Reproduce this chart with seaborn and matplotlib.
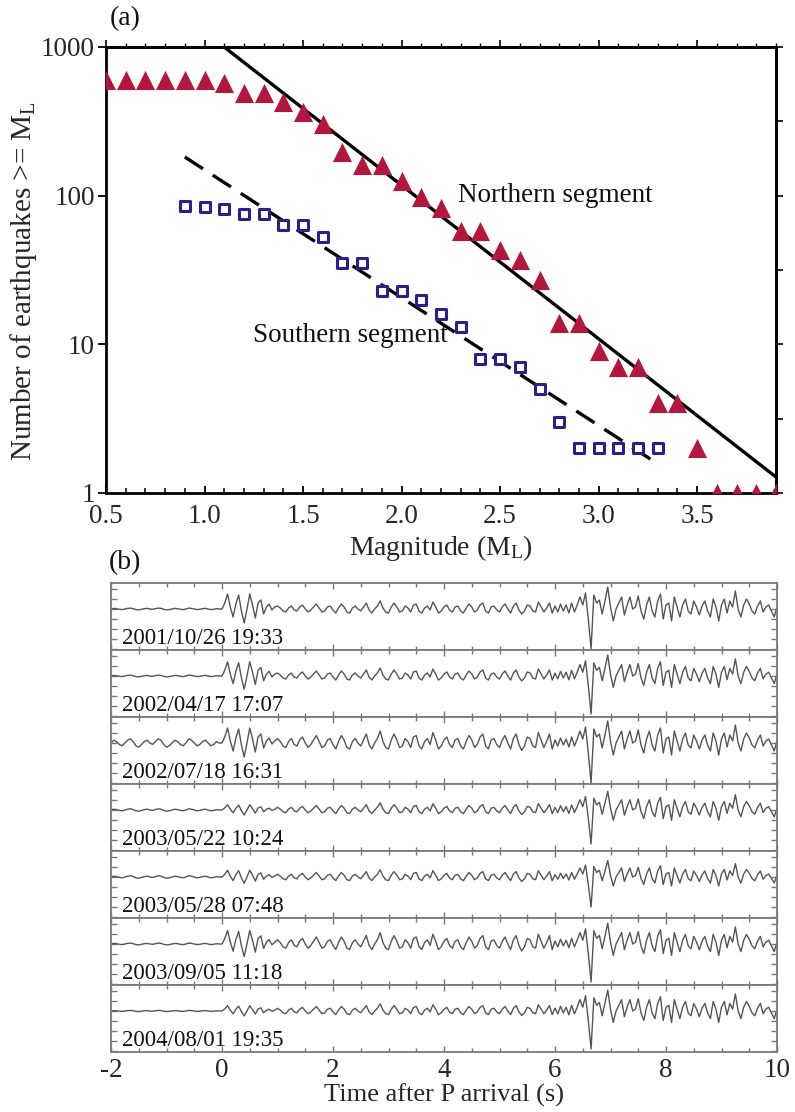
import numpy as np
import matplotlib
matplotlib.use("Agg")
import matplotlib.pyplot as plt
import seaborn as sns
from matplotlib.ticker import FixedLocator, MultipleLocator, NullLocator, NullFormatter, FormatStrFormatter

# ---------------- data: panel (a) ----------------
north_mag = [0.5, 0.6, 0.7, 0.8, 0.9, 1.0, 1.1, 1.2, 1.3, 1.4, 1.5, 1.6, 1.7, 1.8, 1.9, 2.0, 2.1, 2.2,
             2.3, 2.4, 2.5, 2.6, 2.7, 2.8, 2.9, 3.0, 3.1, 3.2, 3.3, 3.4, 3.5, 3.6, 3.7, 3.8, 3.9]
north_count = [600, 600, 600, 600, 600, 600, 572, 490, 490, 425, 365, 303, 196, 160, 160, 126, 98, 82,
               58, 58, 43, 37, 27, 14, 14, 9, 7, 7, 4, 4, 2, 1, 1, 1, 1]
south_mag = [0.9, 1.0, 1.1, 1.2, 1.3, 1.4, 1.5, 1.6, 1.7, 1.8, 1.9, 2.0, 2.1, 2.2, 2.3, 2.4, 2.5,
             2.6, 2.7, 2.8, 2.9, 3.0, 3.1, 3.2, 3.3]
south_count = [85, 84, 81, 75, 75, 63, 63, 53, 35, 35, 23, 23, 20, 16, 13, 8, 8, 7, 5, 3, 2, 2, 2, 2, 2]

# Gutenberg-Richter fits: log10 N = a - b M
north_fit_a, north_fit_b = 4.136, 1.033
south_fit_a, south_fit_b = 3.034, 0.86
north_fit_range = [1.1, 3.9]
south_fit_range = [0.9, 3.3]

# ---------------- data: panel (b) ----------------
event_dates = ["2001/10/26 19:33", "2002/04/17 17:07", "2002/07/18 16:31", "2003/05/22 10:24",
               "2003/05/28 07:48", "2003/09/05 11:18", "2004/08/01 19:35"]
# per-event amplitude factors: [pre-event noise, P packet, coda, S packet]
event_gains = [[0.3, 1.00, 1.0, 1.00],
               [0.3, 0.95, 1.0, 0.95],
               [1.4, 1.00, 1.5, 1.00],
               [0.4, 0.35, 0.9, 0.85],
               [0.4, 0.45, 0.9, 0.75],
               [0.3, 0.90, 1.4, 0.95],
               [0.2, 0.35, 0.9, 0.95]]
sample_dt = 0.05
# common waveform (repeating events), samples every 0.05 s
pre_noise = [0, 2, 1, -1, -2, 0, 2, 3, 1, -2, -3, -1, 1, 2, 0, -1, 1, 3, 2, -1,
             -3, -2, 0, 2, 1, -1, -2, 0, 3, 2, 0, -2, -1, 1, 2, 0, -2, -1, 1, 0]
p_packet = [0, 6, 15, 2, -8, 5, 14, -2, -14, 0, 15, 4, -9, 6, 9, -5, 2, 5, -1, 2]
coda = [3, 1, -2, -3, 1, 3, -1, -2, 2, 4, 0, -3, -1, 2, 5, 1, -3, -2, 2, 3,
        -1, -4, 1, 5, 2, -3, -4, 1, 3, 0, -2, 2, 6, -1, -4, 0, 3, 8, 1, -3,
        -4, 2, 6, 2, -3, -2, 3, 1, -3, 4, 5, -2, -4, 1, 3, -1, 7, 2, -4, -2,
        2, 4, -1, -3, 2, 3, -2, -4, 1, 5, 2, -3, -1, 4, 6, -2, -4, 2, 3, -1,
        -3, 2, 5, 0, -4, 3, 6, -1, -5, -2, 4, 3, -2, -3, 7, 2, -3, 1, 6, -4]
s_packet = [3, -3, 5, -2, 4, -4, 6, -3, 4, 12, 4, 16, -10, -40, 14, 6, 9, -5, 8, 22,
            2, -12, 0, 6, 12, -6, 4, 12, 0, 2, 13, -2, -10, 4, 12, -2, -8, 8, 15, -10,
            4, 6, -12, 12, 2, -8, 4, 10, -2, -5, 8, 2, -6, 3, 8, -2, -8, 10, 2, -12,
            4, 10, -4, 8, 2, 18, 0, -8, 4, 10, 5, -2, -5, 3, 8, -3, 2, 4, -2, -8, 2]

# ---------------- style ----------------
sns.set_theme(style="white")
plt.rcParams["font.family"] = ["Liberation Serif", "DejaVu Serif"]
plt.rcParams["mathtext.fontset"] = "custom"
plt.rcParams["mathtext.rm"] = "Liberation Serif"
plt.rcParams["mathtext.it"] = "Liberation Serif:italic"
plt.rcParams["text.color"] = "#111111"

red = "#B3173D"
blue = "#2E1E8C"
fs_tick = 19.5
fs_lab = 20

W, H = 795, 1112
fig = plt.figure(figsize=(W / 100, H / 100), dpi=100)

# ---------------- panel (a) ----------------
axa = fig.add_axes([106 / W, 1 - 493 / H, (776 - 106) / W, (493 - 47) / H])
axa.set_yscale("log")

mn = np.array(north_fit_range)
ms = np.array(south_fit_range)
sns.lineplot(x=mn, y=10 ** (north_fit_a - north_fit_b * mn), ax=axa, color="black", lw=2.4,
             estimator=None, zorder=2)
sns.lineplot(x=ms, y=10 ** (south_fit_a - south_fit_b * ms), ax=axa, color="black", lw=2.4,
             estimator=None, zorder=2).lines[-1].set_dashes((6.5, 3.5))

sns.scatterplot(x=north_mag, y=north_count, ax=axa, marker="^", s=190, color=red,
                edgecolor=red, linewidth=0, zorder=3)
sns.scatterplot(x=south_mag, y=south_count, ax=axa, marker="s", s=55, color="white",
                edgecolor=blue, linewidth=2.2, zorder=4)

axa.set_xlim(0.5, 3.9)
axa.set_ylim(1, 1000)
for sp in axa.spines.values():
    sp.set_linewidth(2.0)
    sp.set_color("black")

axa.xaxis.set_major_locator(MultipleLocator(0.5))
axa.xaxis.set_minor_locator(MultipleLocator(0.1))
axa.xaxis.set_major_formatter(FormatStrFormatter("%.1f"))
axa.tick_params(axis="x", which="both", direction="in", bottom=True, top=False,
                labelsize=fs_tick, pad=8, color="black")
axa.tick_params(axis="x", which="major", length=5, width=1.3)
axa.tick_params(axis="x", which="minor", length=3.5, width=1.1)

axa.yaxis.set_major_locator(FixedLocator([1, 10, 100, 1000]))
axa.yaxis.set_minor_locator(NullLocator())
axa.set_yticklabels(["1", "10", "100", "1000"])
axa.tick_params(axis="y", which="major", direction="out", left=True, right=False,
                length=6, width=1.3, labelsize=fs_tick, pad=2, color="black")

top = axa.secondary_xaxis("top")
top.xaxis.set_major_locator(MultipleLocator(0.5))
top.xaxis.set_minor_locator(MultipleLocator(0.1))
top.xaxis.set_major_formatter(NullFormatter())
top.tick_params(axis="x", which="major", direction="out", length=5, width=1.2, color="black")
top.tick_params(axis="x", which="minor", direction="out", length=3, width=1.0, color="black")
top.spines["top"].set_linewidth(2.0)

right = axa.secondary_yaxis("right")
right.yaxis.set_major_locator(FixedLocator([10 ** (k / 2) for k in range(7)]))
right.yaxis.set_minor_locator(NullLocator())
right.yaxis.set_major_formatter(NullFormatter())
right.tick_params(axis="y", which="major", direction="out", length=5, width=1.2, color="black")
right.spines["right"].set_linewidth(2.0)

axa.set_xlabel(r"Magnitude (M$_\mathrm{L}$)", fontsize=fs_lab, labelpad=3)
axa.set_ylabel(r"Number of earthquakes >= M$_\mathrm{L}$", fontsize=21, labelpad=2)
axa.yaxis.set_label_coords(-0.1, 0.475)

axa.text(2.287, 101, "Northern segment", fontsize=19.5, ha="left", va="center")
axa.text(1.246, 11.5, "Southern segment", fontsize=19.5, ha="left", va="center")

fig.text(125 / W, 1 - 19 / H, "(a)", fontsize=fs_lab, ha="center", va="center")
fig.text(125 / W, 1 - 563 / H, "(b)", fontsize=fs_lab, ha="center", va="center")

# ---------------- panel (b) ----------------
n_pre = len(pre_noise)
t_pre = -sample_dt * np.arange(n_pre, 0, -1)
post = np.array(p_packet + coda + s_packet, dtype=float)
t_post = sample_dt * np.arange(len(post))
seg = np.zeros(len(post), dtype=int)
seg[len(p_packet):] = 1
seg[len(p_packet) + len(coda):] = 2
t_all = np.concatenate([t_pre, t_post])

grey = "#555555"
row_h = 67
for i, (date, g) in enumerate(zip(event_dates, event_gains)):
    top_px = 583 + row_h * i
    ax = fig.add_axes([111 / W, 1 - (top_px + row_h) / H, (777 - 111) / W, row_h / H])
    gains_post = np.array(g[1:])[seg]
    y = np.concatenate([np.array(pre_noise, dtype=float) * g[0], post * gains_post])
    sns.lineplot(x=t_all, y=y, ax=ax, color=grey, lw=1.0, estimator=None)
    ax.set_xlim(-2, 10)
    ax.set_ylim(-41, 26)
    for sp in ax.spines.values():
        sp.set_linewidth(1.3)
        sp.set_color("#7a7a7a")
    ax.xaxis.set_major_locator(MultipleLocator(2))
    ax.xaxis.set_minor_locator(MultipleLocator(0.5))
    ax.yaxis.set_major_locator(MultipleLocator(10))
    ax.yaxis.set_major_formatter(NullFormatter())
    ax.tick_params(axis="both", which="both", direction="in", top=True, bottom=True,
                   left=True, right=True, color="#777777", width=1.0)
    ax.tick_params(axis="both", which="major", length=4)
    ax.tick_params(axis="x", which="minor", length=3)
    ax.set_ylabel("")
    ax.text(11 / 666, 0.165, date, transform=ax.transAxes, fontsize=16.5, ha="left",
            va="center", color="#111111")
    if i < len(event_dates) - 1:
        ax.xaxis.set_major_formatter(NullFormatter())
        ax.set_xlabel("")
    else:
        ax.xaxis.set_major_formatter(FormatStrFormatter("%d"))
        ax.tick_params(axis="x", labelsize=fs_tick, pad=4)
        ax.set_xlabel("Time after P arrival (s)", fontsize=19, labelpad=1)

fig.savefig("out.png", dpi=100)
